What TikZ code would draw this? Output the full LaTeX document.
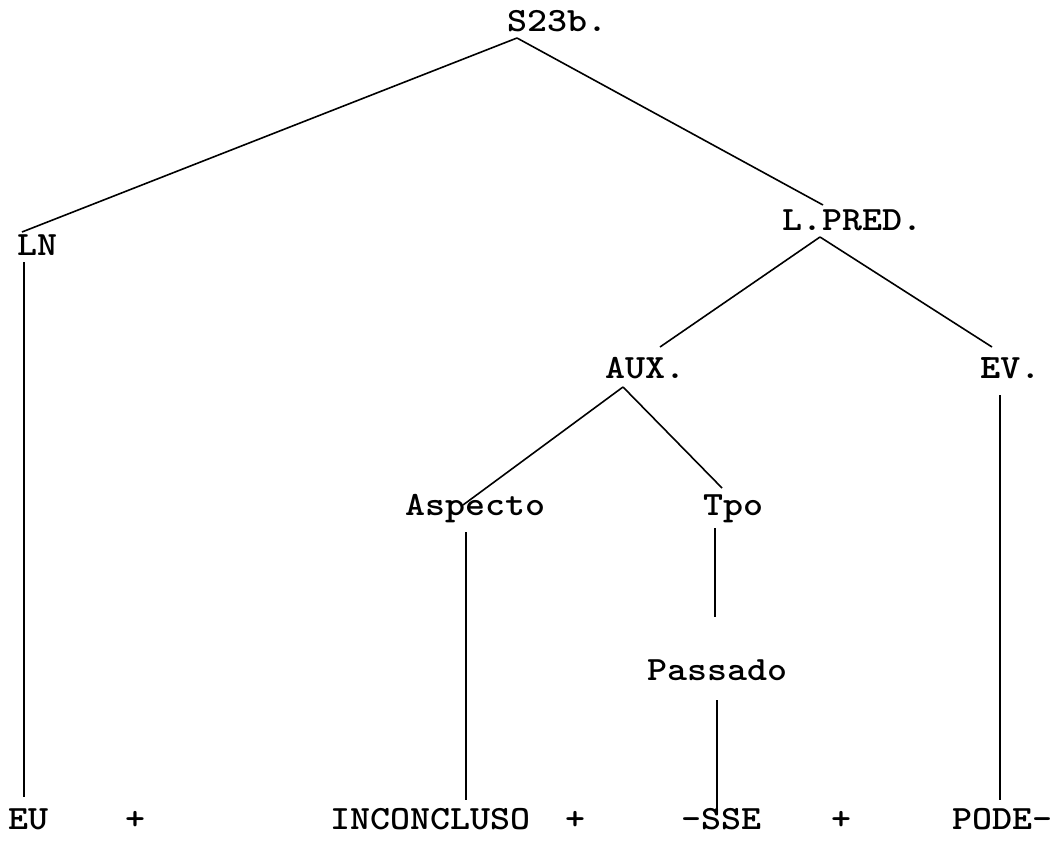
\documentclass[tikz,border=0pt]{standalone}
\usepackage{tikz}

\tikzset{
  lbl/.style={anchor=base west, inner sep=0pt, xscale=1.12, transform shape,
    font=\fontsize{34}{38}\selectfont\ttfamily\bfseries},
  br/.style={line width=1.6pt},
}

\begin{document}
\begin{tikzpicture}[x=1pt,y=-1pt]
\useasboundingbox (0,0) rectangle (1056,842);

% Labels of the tree
\node[lbl] (s)     at (507,32)  {S23b.};
\node[lbl] (ln)    at (17,255)  {LN};
\node[lbl] (lpred) at (782,230) {L.PRED.};
\node[lbl] (aux)   at (605,378) {AUX.};
\node[lbl] (ev)    at (980,378) {\rlap{L}EV.};
\node[lbl] (asp)   at (405,515) {Aspecto};
\node[lbl] (tpo)   at (703,515) {Tpo};
\node[lbl] (pas)   at (647,680) {Passado};

% Bottom string
\node[lbl] (eu)    at (8,829)   {EU};
\node[lbl] (p1)    at (125,829) {+};
\node[lbl] (inc)   at (330,829) {INCONCLUSO};
\node[lbl] (p2)    at (565,829) {+};
\node[lbl] (sse)   at (681,829) {-SSE};
\node[lbl] (p3)    at (831,829) {+};
\node[lbl] (pode)  at (952,829) {PODE-};

% Branches
\draw[br] ([shift={(10,6)}]s.base west) -- ([shift={(5,-23)}]ln.base west);
\draw[br] ([shift={(10,6)}]s.base west) -- ([shift={(41,-25)}]lpred.base west);
\draw[br] ([shift={(38,7)}]lpred.base west) -- ([shift={(55,-31)}]aux.base west);
\draw[br] ([shift={(38,7)}]lpred.base west) -- ([shift={(12,-31)}]ev.base west);
\draw[br] ([shift={(18,9)}]aux.base west) -- ([shift={(58,-10)}]asp.base west);
\draw[br] ([shift={(18,9)}]aux.base west) -- ([shift={(19,-27)}]tpo.base west);

% Vertical lines down to the string
\draw[br] ([shift={(7,7)}]ln.base west) -- ([shift={(16,-32)}]eu.base west);
\draw[br] ([shift={(61,17)}]asp.base west) -- ([shift={(136,-29)}]inc.base west);
\draw[br] ([shift={(12,13)}]tpo.base west) -- ([shift={(68,-63)}]pas.base west);
\draw[br] ([shift={(70,20)}]pas.base west) -- ([shift={(36,-14)}]sse.base west);
\draw[br] ([shift={(20,17)}]ev.base west) -- ([shift={(48,-29)}]pode.base west);
\end{tikzpicture}
\end{document}
